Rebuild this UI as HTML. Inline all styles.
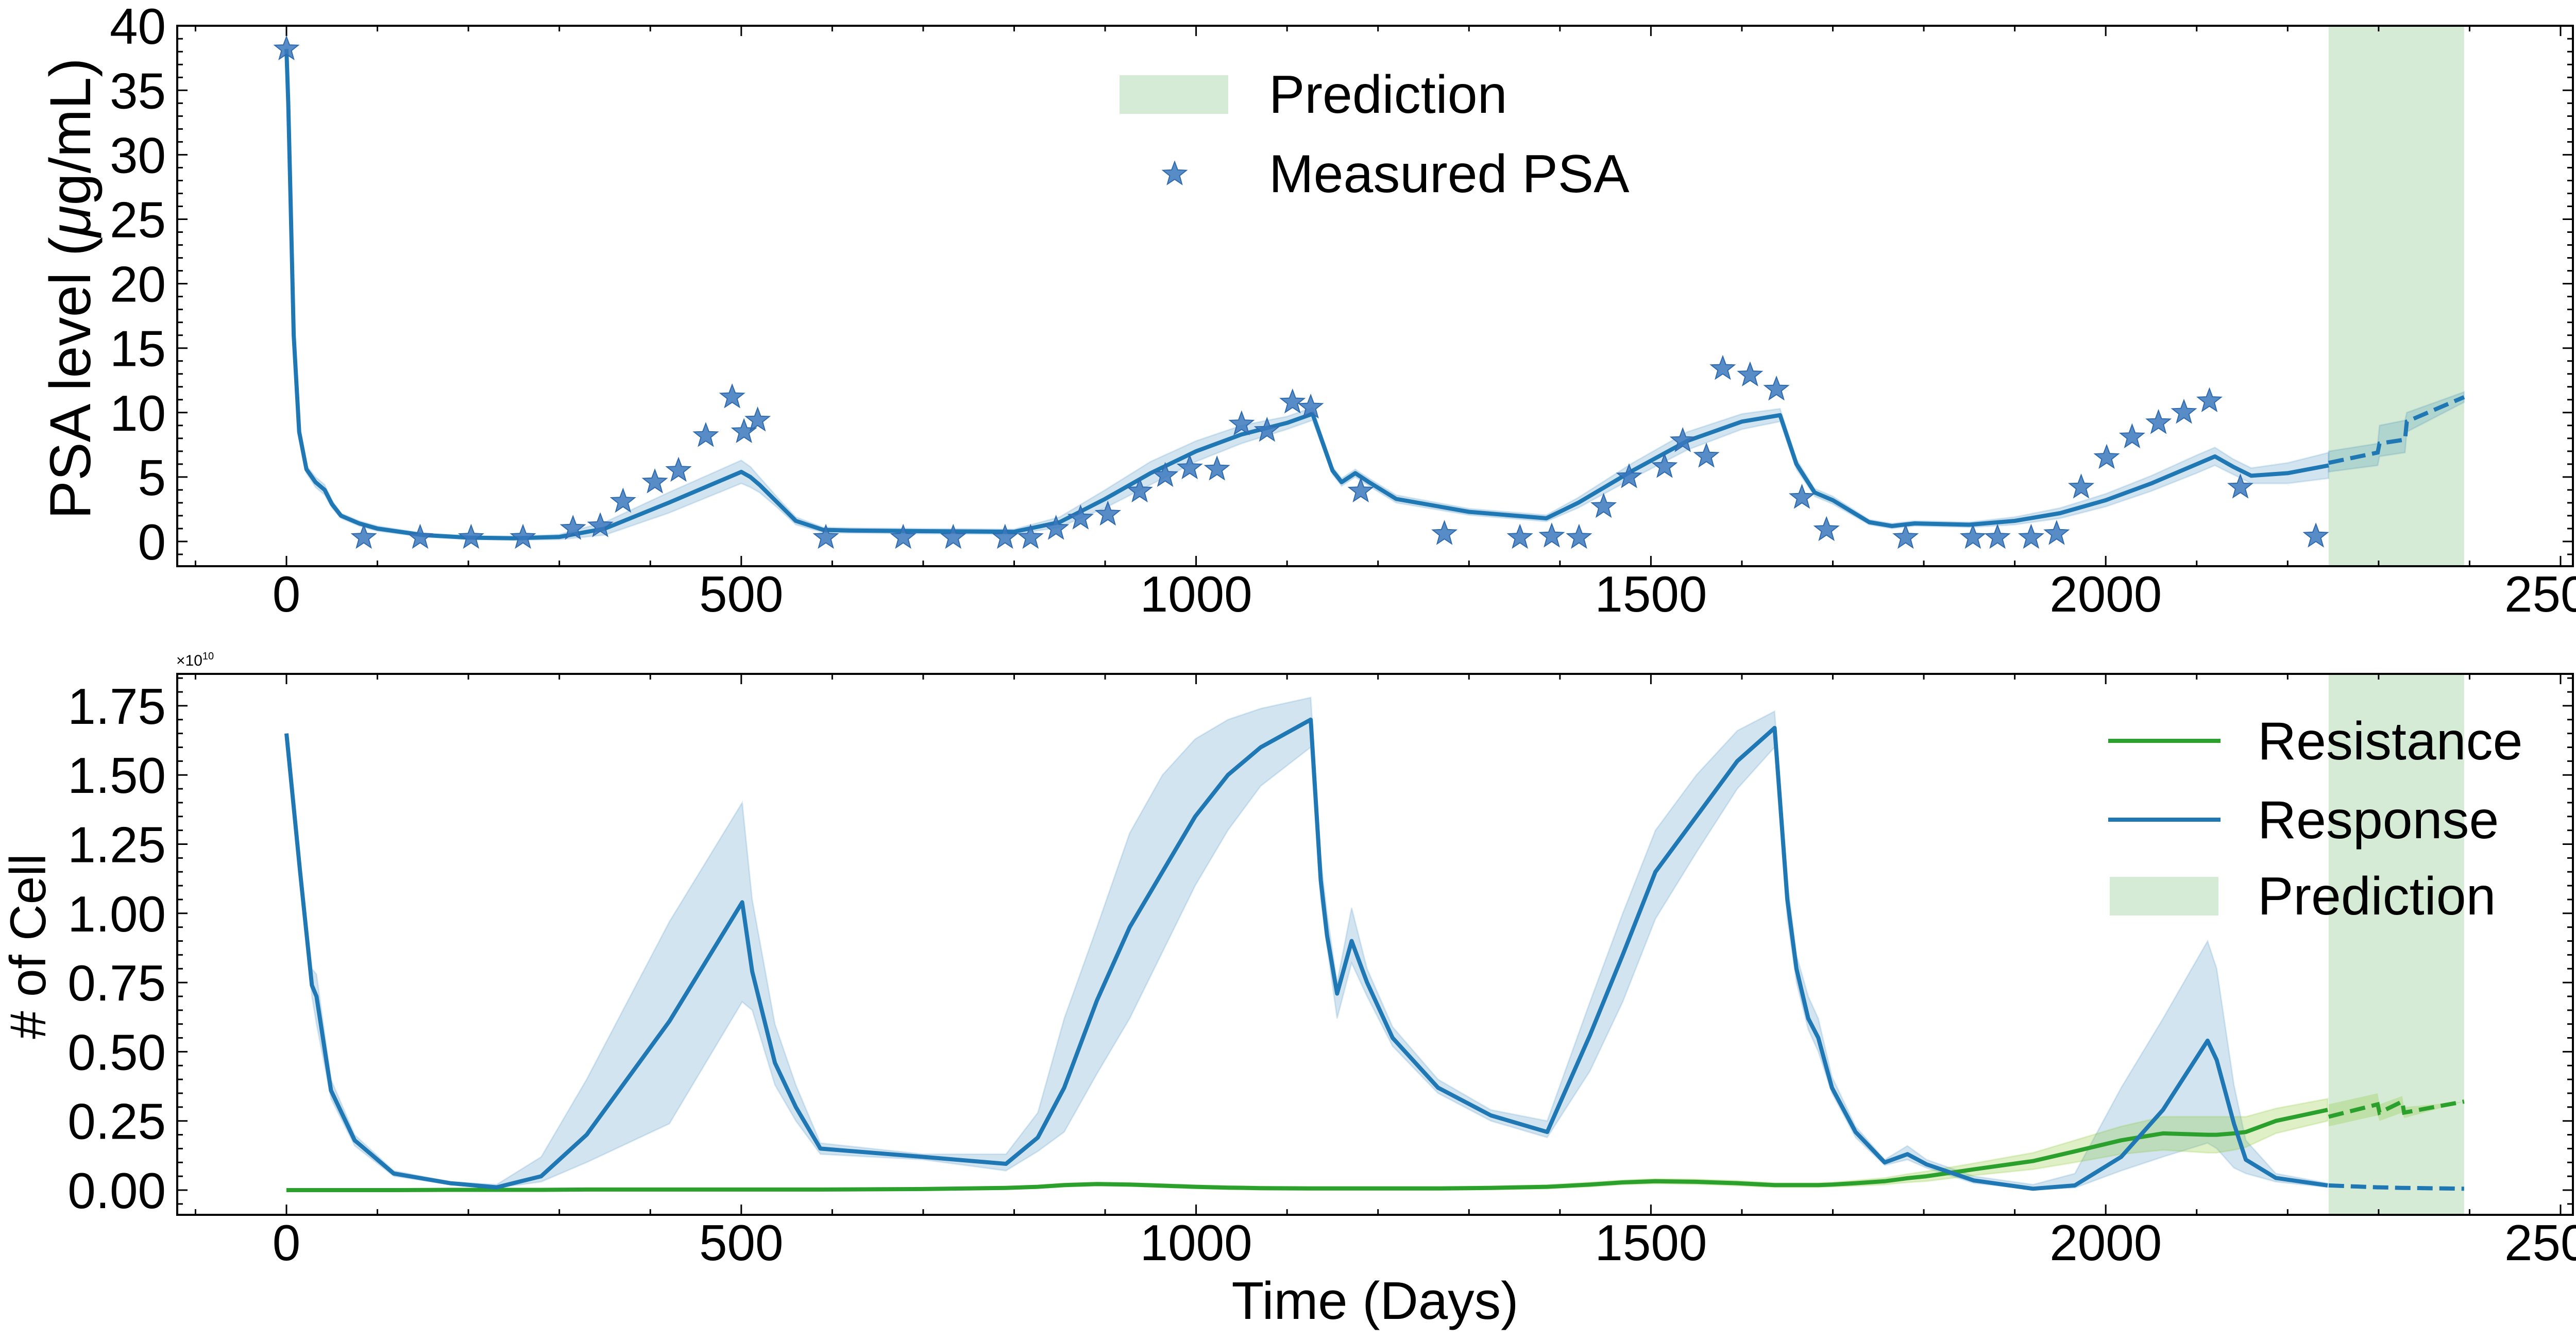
<!DOCTYPE html>
<html><head><meta charset="utf-8"><style>
html,body{margin:0;padding:0;background:#fff}
svg{display:block}
text{font-family:"Liberation Sans",Arial,sans-serif;fill:#000}
</style></head><body>
<svg id="chart" xmlns="http://www.w3.org/2000/svg" width="5101" height="2599" viewBox="0 0 5101 2599">
<g id="topPanel"></g>
<g id="botPanel"></g>
</svg>
<script>
// ---------- data ----------
const xTicks = [0, 500, 1000, 1500, 2000, 2500];
const psaTicks = [0, 5, 10, 15, 20, 25, 30, 35, 40];
const cellTicks = [0, 0.25, 0.5, 0.75, 1.0, 1.25, 1.5, 1.75];
const cellTickLabels = ["0.00","0.25","0.50","0.75","1.00","1.25","1.50","1.75"];
const predStart = 2245, predEnd = 2394;

const measDays = [0,85,147,203,260,315,345,370,405,431,461,490,503,518,593,678,733,790,818,846,873,903,938,966,993,1023,1050,1078,1106,1126,1181,1273,1356,1391,1421,1448,1476,1515,1535,1561,1579,1609,1638,1666,1693,1780,1854,1881,1918,1946,1973,2001,2029,2058,2086,2114,2148,2231];
const measPSA = [38.2,0.3,0.3,0.3,0.3,1.0,1.2,3.1,4.6,5.5,8.2,11.2,8.5,9.4,0.3,0.3,0.3,0.3,0.3,1.0,1.8,2.1,3.9,5.1,5.7,5.6,9.1,8.6,10.8,10.4,3.9,0.6,0.3,0.4,0.3,2.7,5.0,5.8,7.8,6.6,13.4,12.9,11.8,3.4,0.9,0.3,0.3,0.3,0.3,0.6,4.2,6.5,8.1,9.2,10.0,10.9,4.2,0.4];

const psaDays = [0,2,4,8,14,22,32,42,50,60,80,100,150,200,250,300,350,420,500,510,520,540,560,590,620,700,800,850,900,950,1000,1050,1100,1128,1150,1160,1175,1190,1220,1300,1385,1420,1480,1540,1600,1642,1660,1680,1700,1740,1765,1790,1850,1900,1950,2000,2050,2100,2120,2140,2160,2200,2245];
const psaMean = [38.2,34,28,16,8.5,5.6,4.6,4.0,2.9,2.0,1.4,1.0,0.5,0.3,0.25,0.35,1.0,3.0,5.4,5.0,4.4,3.0,1.6,0.9,0.85,0.8,0.75,1.5,3.3,5.3,7.0,8.3,9.2,9.9,5.5,4.6,5.3,4.6,3.3,2.3,1.8,3.0,5.5,7.8,9.3,9.8,6.0,3.8,3.2,1.5,1.2,1.4,1.3,1.6,2.2,3.2,4.5,6.0,6.6,5.8,5.1,5.3,5.9];
const psaSpread = [0.2,0.3,0.3,0.3,0.3,0.3,0.4,0.4,0.3,0.2,0.2,0.2,0.15,0.15,0.15,0.2,0.5,0.8,0.9,0.8,0.6,0.4,0.3,0.2,0.2,0.2,0.2,0.4,0.7,0.9,0.8,0.7,0.5,0.5,0.3,0.3,0.3,0.3,0.3,0.25,0.25,0.4,0.6,0.7,0.6,0.5,0.4,0.3,0.3,0.2,0.2,0.2,0.2,0.3,0.4,0.5,0.6,0.7,0.7,0.6,0.6,0.8,1.0];
const psaPredDays = [2245,2299,2301,2329,2331,2394];
const psaPredMean = [6.1,6.9,7.6,7.9,9.3,11.2];
const psaPredLow  = [5.4,5.9,6.6,6.9,8.5,10.8];
const psaPredHigh = [7.0,7.6,9.0,9.4,10.0,11.6];

const cellDays = [0,15,28,33,49,75,118,180,231,280,330,421,501,512,537,560,587,700,791,826,855,891,927,963,999,1035,1071,1126,1137,1144,1155,1171,1188,1216,1266,1324,1386,1433,1469,1505,1550,1595,1636,1650,1660,1673,1684,1699,1725,1757,1782,1803,1855,1920,1966,2017,2063,2112,2122,2141,2154,2187,2244];
const respMean = [1.65,1.15,0.74,0.70,0.36,0.18,0.06,0.025,0.01,0.05,0.2,0.61,1.04,0.79,0.46,0.30,0.15,0.12,0.095,0.19,0.37,0.685,0.95,1.15,1.35,1.50,1.60,1.70,1.12,0.92,0.71,0.90,0.75,0.55,0.37,0.27,0.21,0.56,0.85,1.15,1.35,1.55,1.67,1.05,0.80,0.62,0.55,0.37,0.21,0.10,0.13,0.093,0.035,0.005,0.017,0.12,0.29,0.54,0.47,0.24,0.11,0.044,0.017];
const respLow = [1.65,1.12,0.70,0.60,0.33,0.16,0.05,0.02,0.008,0.03,0.1,0.24,0.68,0.65,0.38,0.25,0.13,0.11,0.07,0.14,0.21,0.42,0.62,0.86,1.10,1.30,1.46,1.60,1.05,0.88,0.62,0.82,0.70,0.52,0.35,0.25,0.19,0.43,0.68,0.98,1.22,1.45,1.60,0.98,0.75,0.58,0.50,0.35,0.19,0.09,0.11,0.08,0.025,0.003,0.008,0.07,0.12,0.17,0.15,0.08,0.06,0.03,0.01];
const respHigh = [1.65,1.18,0.80,0.78,0.40,0.20,0.07,0.03,0.02,0.12,0.4,0.97,1.40,1.05,0.60,0.38,0.17,0.13,0.13,0.28,0.62,0.95,1.29,1.50,1.63,1.70,1.74,1.78,1.20,1.00,0.75,1.02,0.80,0.59,0.40,0.29,0.25,0.68,1.00,1.30,1.50,1.66,1.73,1.12,0.85,0.70,0.62,0.41,0.23,0.11,0.16,0.11,0.05,0.02,0.06,0.37,0.62,0.90,0.80,0.38,0.18,0.06,0.025];
const resMean = [0,0,0,0,0,0,0,0.001,0.001,0.001,0.002,0.002,0.002,0.002,0.002,0.002,0.002,0.004,0.008,0.012,0.018,0.022,0.02,0.016,0.012,0.009,0.007,0.006,0.006,0.006,0.006,0.006,0.006,0.006,0.006,0.008,0.012,0.02,0.028,0.032,0.03,0.025,0.018,0.018,0.018,0.018,0.018,0.02,0.025,0.032,0.043,0.05,0.075,0.105,0.14,0.18,0.205,0.2,0.2,0.205,0.21,0.25,0.29];
const resSpread = [0.004,0.004,0.004,0.004,0.004,0.004,0.004,0.004,0.004,0.004,0.004,0.004,0.004,0.004,0.004,0.004,0.004,0.004,0.005,0.005,0.006,0.006,0.006,0.006,0.006,0.006,0.006,0.006,0.006,0.006,0.006,0.006,0.006,0.006,0.006,0.006,0.007,0.008,0.008,0.009,0.009,0.009,0.008,0.008,0.008,0.008,0.008,0.008,0.01,0.012,0.015,0.018,0.022,0.03,0.04,0.05,0.06,0.065,0.065,0.06,0.055,0.045,0.04];
const cellPredDays = [2245,2299,2301,2326,2328,2394];
const respPred = [0.017,0.01,0.01,0.008,0.008,0.005];
const resPred = [0.265,0.31,0.28,0.32,0.28,0.32];
const resPredLow = [0.23,0.27,0.25,0.28,0.26,0.32];
const resPredHigh = [0.31,0.35,0.31,0.34,0.30,0.32];

// ---------- geometry ----------
const L = 344, R = 4994;
const T1 = 50, B1 = 1099, T2 = 1308, B2 = 2358;
const X0 = 556, XS = 1.7656;
const xs = d => X0 + d * XS;
const y1 = v => 1051 - v * 25.02;
const y2 = v => 2310 - v * 537.2;
const NS = "http://www.w3.org/2000/svg";
const BLUE = "#1f77b4", GREEN = "#2ca02c";

function mk(tag, parent, attrs, txt) {
  const el = document.createElementNS(NS, tag);
  for (const k in attrs) el.setAttribute(k, attrs[k]);
  if (txt !== undefined) el.textContent = txt;
  parent.appendChild(el);
  return el;
}
function linePath(days, vals, ys) {
  return days.map((d, i) => (i ? "L" : "M") + xs(d).toFixed(1) + "," + ys(vals[i]).toFixed(1)).join("");
}
function bandPath(days, lo, hi, ys) {
  let p = days.map((d, i) => (i ? "L" : "M") + xs(d).toFixed(1) + "," + ys(hi[i]).toFixed(1)).join("");
  for (let i = days.length - 1; i >= 0; i--) p += "L" + xs(days[i]).toFixed(1) + "," + ys(lo[i]).toFixed(1);
  return p + "Z";
}
function starPts(cx, cy, r) {
  const pts = [];
  for (let i = 0; i < 10; i++) {
    const a = -Math.PI / 2 + i * Math.PI / 5;
    const rr = i % 2 ? r * 0.42 : r;
    pts.push((cx + rr * Math.cos(a)).toFixed(1) + "," + (cy + rr * Math.sin(a)).toFixed(1));
  }
  return pts.join(" ");
}
function axes(g, T, B, ys, yt, ylabels, minorStep, ymin, ymax, prefix) {
  const pr = mk("rect", g, {x: xs(predStart), y: T, width: xs(predEnd) - xs(predStart), height: B - T, fill: "#d5ebd5"});
  
  
  const fr = mk("rect", g, {x: L, y: T, width: R - L, height: B - T, fill: "none", stroke: "#000", "stroke-width": 4});
  
  
  const tk = mk("g", g, {stroke: "#000", "stroke-width": 3});
  
  
  for (let d = -100; d <= 2500; d += 100) {
    const x = xs(d);
    if (x < L || x > R) continue;
    const len = d % 500 === 0 ? 20 : 11;
    mk("line", tk, {x1: x, y1: B, x2: x, y2: B - len});
    mk("line", tk, {x1: x, y1: T, x2: x, y2: T + len});
  }
  const n = Math.round((ymax - ymin) / minorStep);
  for (let k = 0; k <= n; k++) {
    const v = ymin + k * minorStep;
    const y = ys(v);
    if (y < T || y > B) continue;
    const major = yt.some(t => Math.abs(t - v) < 1e-6);
    const len = major ? 20 : 11;
    mk("line", tk, {x1: L, y1: y, x2: L + len, y2: y});
    mk("line", tk, {x1: R, y1: y, x2: R - len, y2: y});
  }
  xTicks.forEach(d => {
    const t = mk("text", g, {x: xs(d), y: B + 88, "font-size": 98, "text-anchor": "middle"}, String(d));
    
    
  });
  yt.forEach((v, i) => {
    const t = mk("text", g, {x: 322, y: ys(v) + 35, "font-size": 98, "text-anchor": "end"}, ylabels[i]);
    
    
  });
}

// ---------- top panel ----------
const topG = document.getElementById("topPanel");
axes(topG, T1, B1, y1, psaTicks, psaTicks.map(String), 1, -1, 40, "psa");
const psaLow = psaMean.map((m, i) => m - psaSpread[i]);
const psaHigh = psaMean.map((m, i) => m + psaSpread[i]);
const pb = mk("path", topG, {d: bandPath(psaDays, psaLow, psaHigh, y1), fill: BLUE, "fill-opacity": 0.2, stroke: BLUE, "stroke-opacity": 0.15, "stroke-width": 3});


const ppb = mk("path", topG, {d: bandPath(psaPredDays, psaPredLow, psaPredHigh, y1), fill: BLUE, "fill-opacity": 0.2, stroke: BLUE, "stroke-opacity": 0.15, "stroke-width": 3});


const pl = mk("path", topG, {d: linePath(psaDays, psaMean, y1), fill: "none", stroke: BLUE, "stroke-width": 8, "stroke-linejoin": "round"});


const ppl = mk("path", topG, {d: linePath(psaPredDays, psaPredMean, y1), fill: "none", stroke: BLUE, "stroke-width": 8, "stroke-dasharray": "30,13"});


const sg = mk("g", topG, {});


measDays.forEach((d, i) => {
  const s = mk("polygon", sg, {points: starPts(xs(d), y1(measPSA[i]), 24), fill: "#3b78bd", "fill-opacity": 0.85, stroke: "#2e6aae", "stroke-width": 2});
  
  
});
const ylab1 = mk("text", topG, {x: 0, y: 0, "font-size": 112, "text-anchor": "middle", transform: "translate(175,560) rotate(-90)"});


mk("tspan", ylab1, {}, "PSA level (");
mk("tspan", ylab1, {"font-style": "italic"}, "μ");
mk("tspan", ylab1, {}, "g/mL)");
const lg1 = mk("g", topG, {});


mk("rect", lg1, {x: 2173, y: 146, width: 211, height: 75, fill: "#d5ebd5"});
mk("text", lg1, {x: 2463, y: 219, "font-size": 104}, "Prediction");
mk("polygon", lg1, {points: starPts(2280, 338, 24), fill: "#3b78bd", "fill-opacity": 0.85, stroke: "#2e6aae", "stroke-width": 2});
mk("text", lg1, {x: 2463, y: 373, "font-size": 104}, "Measured PSA");

// ---------- bottom panel ----------
const botG = document.getElementById("botPanel");
axes(botG, T2, B2, y2, cellTicks, cellTickLabels, 0.05, -0.05, 1.85, "cell");
const rb = mk("path", botG, {d: bandPath(cellDays, respLow, respHigh, y2), fill: BLUE, "fill-opacity": 0.2, stroke: BLUE, "stroke-opacity": 0.15, "stroke-width": 3});


const resLow = resMean.map((m, i) => m - resSpread[i]);
const resHigh = resMean.map((m, i) => m + resSpread[i]);
const gb = mk("path", botG, {d: bandPath(cellDays, resLow, resHigh, y2), fill: "#7fc41f", "fill-opacity": 0.25, stroke: "#7fc41f", "stroke-opacity": 0.2, "stroke-width": 3});


const gpb = mk("path", botG, {d: bandPath(cellPredDays, resPredLow, resPredHigh, y2), fill: "#7fc41f", "fill-opacity": 0.25, stroke: "none"});


const gl = mk("path", botG, {d: linePath(cellDays, resMean, y2), fill: "none", stroke: GREEN, "stroke-width": 8, "stroke-linejoin": "round"});


const gpl = mk("path", botG, {d: linePath(cellPredDays, resPred, y2), fill: "none", stroke: GREEN, "stroke-width": 8, "stroke-dasharray": "30,13"});


const bl = mk("path", botG, {d: linePath(cellDays, respMean, y2), fill: "none", stroke: BLUE, "stroke-width": 8, "stroke-linejoin": "round"});


const bpl = mk("path", botG, {d: linePath(cellPredDays, respPred, y2), fill: "none", stroke: BLUE, "stroke-width": 8, "stroke-dasharray": "30,13"});


const offLbl = mk("text", botG, {x: 342, y: 1292, "font-size": 30}, "×10");


mk("tspan", offLbl, {"font-size": 20, dy: -12}, "10");
const ylab2 = mk("text", botG, {x: 0, y: 0, "font-size": 98, "text-anchor": "middle", transform: "translate(88,1837) rotate(-90)"}, "# of Cell");


const xlab = mk("text", botG, {x: 2669, y: 2560, "font-size": 103, "text-anchor": "middle"}, "Time (Days)");


const lg2 = mk("g", botG, {});


mk("line", lg2, {x1: 4092, y1: 1438, x2: 4310, y2: 1438, stroke: GREEN, "stroke-width": 8});
mk("text", lg2, {x: 4382, y: 1474, "font-size": 104}, "Resistance");
mk("line", lg2, {x1: 4092, y1: 1591, x2: 4310, y2: 1591, stroke: BLUE, "stroke-width": 8});
mk("text", lg2, {x: 4382, y: 1627, "font-size": 104}, "Response");
mk("rect", lg2, {x: 4095, y: 1702, width: 211, height: 75, fill: "#d5ebd5"});
mk("text", lg2, {x: 4382, y: 1775, "font-size": 104}, "Prediction");
</script>
</body></html>
